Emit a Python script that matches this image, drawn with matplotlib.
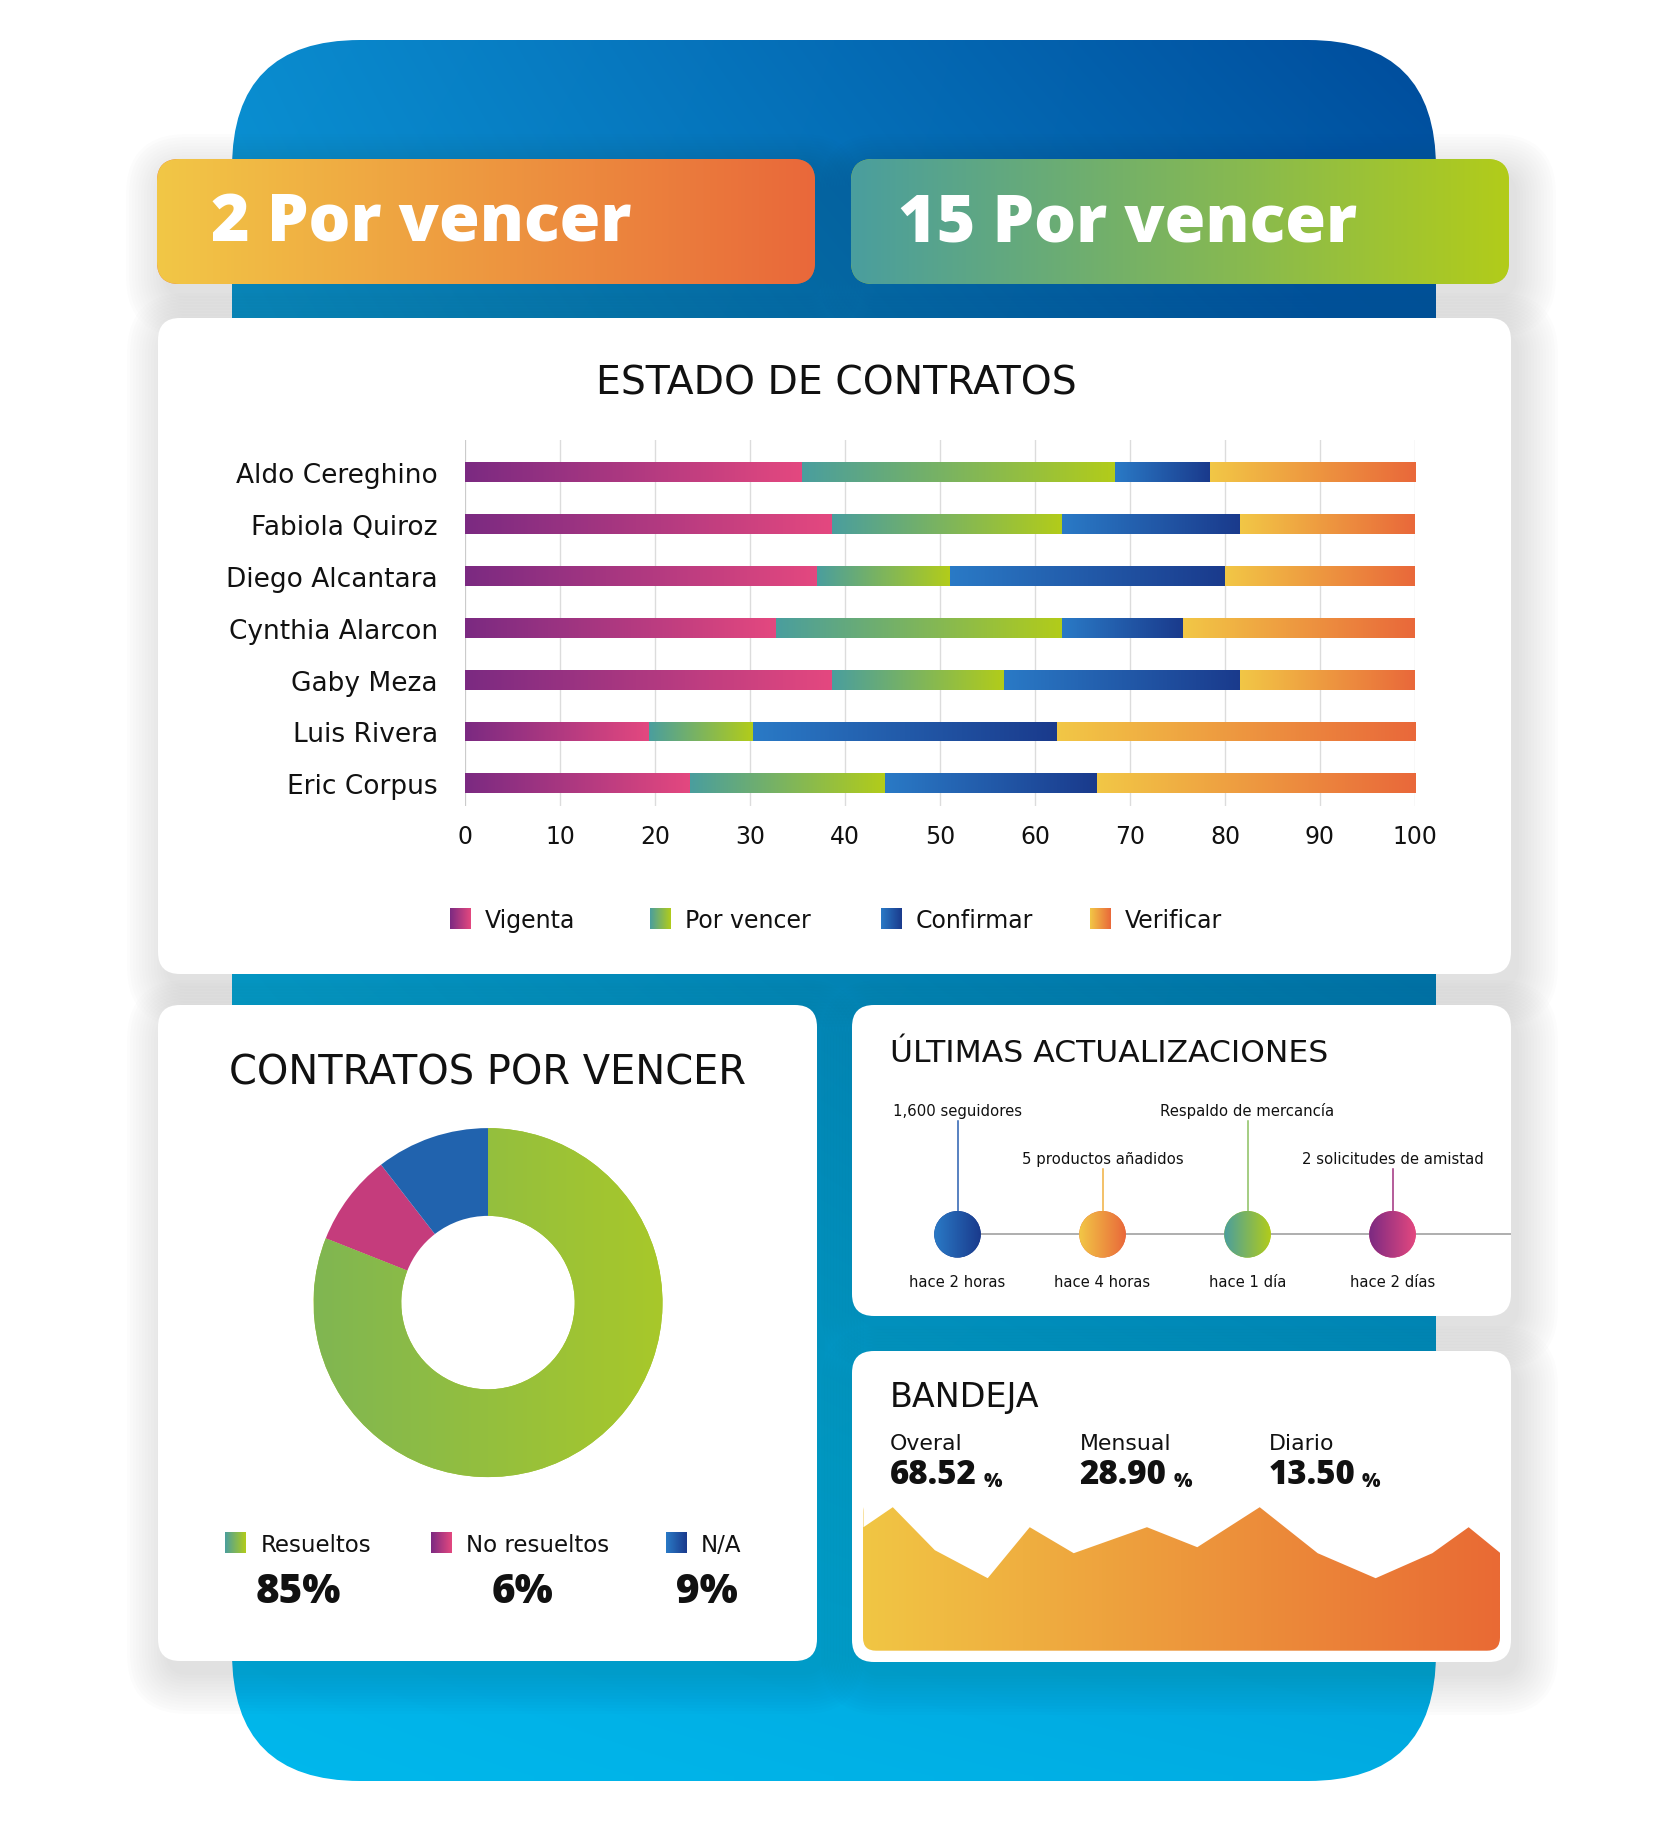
import numpy as np
import matplotlib
matplotlib.use("Agg")
import matplotlib.pyplot as plt
from matplotlib.colors import LinearSegmentedColormap, to_rgb
from matplotlib.patches import FancyBboxPatch, Circle, Rectangle

# -----------------------------
# Data
# -----------------------------
banner_counts = [2, 15]
banner_label = "Por vencer"

people = ["Aldo Cereghino", "Fabiola Quiroz", "Diego Alcantara", "Cynthia Alarcon",
          "Gaby Meza", "Luis Rivera", "Eric Corpus"]
status_names = ["Vigenta", "Por vencer", "Confirmar", "Verificar"]
vigenta = [35.5, 38.6, 37.1, 32.7, 38.6, 19.4, 23.7]
por_vencer = [32.9, 24.2, 13.9, 30.1, 18.1, 10.9, 20.5]
confirmar = [10.0, 18.8, 29.0, 12.8, 24.9, 32.0, 22.3]
verificar = [21.6, 18.4, 20.0, 24.4, 18.4, 37.7, 33.5]
x_ticks = [0, 10, 20, 30, 40, 50, 60, 70, 80, 90, 100]

donut_labels = ["Resueltos", "No resueltos", "N/A"]
donut_shares = [81.0, 8.5, 10.5]      # as drawn in the ring
donut_text = ["85%", "6%", "9%"]      # as printed below it

update_titles = ["1,600 seguidores", "5 productos añadidos",
                 "Respaldo de mercancía", "2 solicitudes de amistad"]
update_times = ["hace 2 horas", "hace 4 horas", "hace 1 día", "hace 2 días"]
update_row = [1, 0, 1, 0]             # 1 = upper label, 0 = lower label

tray_labels = ["Overal", "Mensual", "Diario"]
tray_values = ["68.52", "28.90", "13.50"]
area_x = [0, 4.6, 11.2, 19.5, 26.1, 33.0, 44.5, 52.4, 62.2, 71.3, 80.4, 89.3, 95.0, 100]
area_y = [124, 144, 101, 73, 124, 98, 124, 104, 144, 98, 73, 98, 124, 98]

# gradient pairs (left -> right)
PURPLE = ("#7b2a82", "#e4487f")
GREEN = ("#4a9e9e", "#b2cc1a")
BLUE = ("#2a7ac6", "#1a3a8c")
ORANGE = ("#f2c746", "#e9683a")
series = [vigenta, por_vencer, confirmar, verificar]
series_grad = [PURPLE, GREEN, BLUE, ORANGE]

TXT = "#111111"
REG = "DejaVu Sans"
BOLD = "Open Sans"

W, H = 1668, 1824
fig = plt.figure(figsize=(W / 100, H / 100), dpi=100)
ax = fig.add_axes([0, 0, 1, 1])
ax.axis("off")


def px_axes(x0, y0, x1, y1):
    a = fig.add_axes([x0 / W, 1 - y1 / H, (x1 - x0) / W, (y1 - y0) / H])
    a.patch.set_visible(False)
    return a


def gradient(axis, extent, c1, c2, clip=None, z=1):
    cmap = LinearSegmentedColormap.from_list("g", [c1, c2])
    im = axis.imshow(np.linspace(0, 1, 256)[None, :], cmap=cmap, extent=extent,
                     aspect="auto", interpolation="bilinear", zorder=z)
    if clip is not None:
        im.set_clip_path(clip)
    return im


def rbox(x0, y0, x1, y1, r, **kw):
    p = FancyBboxPatch((x0, y0), x1 - x0, y1 - y0,
                       boxstyle=f"round,pad=0,rounding_size={r}", **kw)
    ax.add_patch(p)
    return p


def shadow(x0, y0, x1, y1, r):
    for k in range(14):
        g = k * 3
        rbox(x0 - g + 8, y0 - g + 14, x1 + g + 8, y1 + g + 14, r + g,
             fc="#505050", ec="none", alpha=0.012, zorder=1)


# -----------------------------
# Blue background
# -----------------------------
bg = rbox(232, 41, 1436, 1782, 128, fc="none", ec="none", zorder=0)
TL, TR = np.array(to_rgb("#0a8ccf")), np.array(to_rgb("#004c9c"))
BL, BR = np.array(to_rgb("#00b8ec")), np.array(to_rgb("#00ace2"))
u = np.linspace(0, 1, 200)[None, :, None]
v = np.linspace(0, 1, 200)[:, None, None]
bg_img = (1 - v) * ((1 - u) * TL + u * TR) + v * ((1 - u) * BL + u * BR)
im = ax.imshow(bg_img, extent=(232, 1436, 1782, 41), aspect="auto",
               interpolation="bilinear", zorder=0)
im.set_clip_path(bg)

# -----------------------------
# Banners
# -----------------------------
banners = [(157, 160, 815, 285, ORANGE, 211), (851, 160, 1509, 285, GREEN, 898)]
for (x0, y0, x1, y1, grad, tx), cnt in zip(banners, banner_counts):
    shadow(x0, y0, x1, y1, 22)
    b = rbox(x0, y0, x1, y1, 22, fc=grad[1], ec="none", zorder=3)
    gradient(ax, (x0, x1, y1, y0), grad[0], grad[1], clip=b, z=3)
    ax.text(tx, 242, f"{cnt} {banner_label}", color="white", fontsize=47.5,
            family=BOLD, weight="heavy", va="baseline", zorder=5)

# -----------------------------
# Cards
# -----------------------------
cards = [(158, 319, 1511, 975), (158, 1006, 817, 1662),
         (852, 1006, 1511, 1317), (852, 1352, 1511, 1663)]
for c in cards:
    shadow(*c, 22)
for c in cards:
    rbox(*c, 22, fc="white", ec="none", zorder=2)

# -----------------------------
# Estado de contratos (stacked bars)
# -----------------------------
ax.text(836, 394.6, "ESTADO DE CONTRATOS", fontsize=28.3, family=REG, color=TXT,
        ha="center", va="baseline", zorder=5)

bax = px_axes(465, 441, 1415, 806.7)
ypos = np.arange(len(people))
bh = 0.385
left = np.zeros(len(people))
for vals, grad in zip(series, series_grad):
    bars = bax.barh(ypos, vals, left=left, height=bh, color=grad[1], lw=0, zorder=2)
    for bar in bars:
        x, y = bar.get_x(), bar.get_y()
        gradient(bax, (x, x + bar.get_width(), y + bh, y), grad[0], grad[1],
                 clip=bar, z=2)
    left += np.array(vals)
bax.set_xlim(0, 100)
bax.set_ylim(6.43, -0.617)
bax.set_xticks(x_ticks)
bax.set_xticklabels([str(t) for t in x_ticks], fontsize=17, family=REG, color=TXT)
bax.set_yticks(ypos)
bax.set_yticklabels(people, fontsize=19, family=REG, color=TXT)
bax.tick_params(axis="x", length=0, pad=13)
bax.tick_params(axis="y", length=0, pad=19.5)
bax.grid(axis="x", color="#dcdcdc", lw=1)
bax.set_axisbelow(True)
for s in bax.spines.values():
    s.set_visible(False)
bax.axvline(0, color="#c8c8c8", lw=1.2, zorder=1)

leg_sq = [450, 650, 881.5, 1090]
leg_tx = [484.5, 685, 916, 1124.5]
for name, grad, sx, tx in zip(status_names, series_grad, leg_sq, leg_tx):
    r = Rectangle((sx, 909), 21, 21, fc=grad[1], ec="none", zorder=4)
    ax.add_patch(r)
    gradient(ax, (sx, sx + 21, 930, 909), grad[0], grad[1], clip=r, z=4)
    ax.text(tx, 927.7, name, fontsize=17, family=REG, color=TXT, va="baseline", zorder=5)

# -----------------------------
# Contratos por vencer (donut)
# -----------------------------
ax.text(488, 1084.6, "CONTRATOS POR VENCER", fontsize=28.8, family=REG, color=TXT,
        ha="center", va="baseline", zorder=5)
cx, cy, R = 488, 1303.6, 174.5
dax = px_axes(cx - R, cy - R, cx + R, cy + R)
wedges, _ = dax.pie(donut_shares, colors=["#a6c72a", "#c53c7c", "#2163ae"],
                    startangle=90, counterclock=False, radius=1,
                    wedgeprops=dict(width=0.503, lw=0))
gradient(dax, (-1, 1, -1, 1), "#80b652", "#a8c82a", clip=wedges[0], z=2)
dax.set_xlim(-1, 1)
dax.set_ylim(-1, 1)
dax.axis("off")

d_grad = [GREEN, PURPLE, BLUE]
d_sq = [225, 431, 666]
d_tx = [261, 465.7, 700.7]
d_num = [298.5, 522.5, 707]
for name, pct, grad, sx, tx, nx in zip(donut_labels, donut_text, d_grad, d_sq, d_tx, d_num):
    r = Rectangle((sx, 1533), 21, 21, fc=grad[1], ec="none", zorder=4)
    ax.add_patch(r)
    gradient(ax, (sx, sx + 21, 1554, 1533), grad[0], grad[1], clip=r, z=4)
    ax.text(tx, 1551.6, name, fontsize=16.5, family=REG, color=TXT, va="baseline", zorder=5)
    ax.text(nx, 1602.8, pct, fontsize=29, family=BOLD, weight="heavy", color=TXT,
            ha="center", va="baseline", zorder=5)

# -----------------------------
# Ultimas actualizaciones (timeline)
# -----------------------------
ax.text(890, 1061.7, "ÚLTIMAS ACTUALIZACIONES", fontsize=22.6, family=REG, color=TXT,
        va="baseline", zorder=5)
unit = 145.0
tx0 = 957.5
tax = px_axes(852, 1006, 1511, 1317)
tax.set_xlim((852 - tx0) / unit, (1511 - tx0) / unit)
tax.set_ylim(0, 311 / unit)
tax.axis("off")
line_y = (1317 - 1235.3) / unit
rad = 23.3 / unit
stem_top = {1: (1317 - 1122.3) / unit, 0: (1317 - 1170.3) / unit}
label_y = {1: (1317 - 1115.7) / unit, 0: (1317 - 1164) / unit}
time_y = (1317 - 1287.3) / unit
ev = np.arange(len(update_titles))
tax.plot([ev[0], tax.get_xlim()[1]], [line_y, line_y], color="#a8a8a8", lw=1.3, zorder=1)
c_grad = [BLUE, ORANGE, GREEN, PURPLE]
stem_col = ["#2a5fb0", "#f0b040", "#8cc060", "#a0307f"]
for i, title, when, row, grad, sc in zip(ev, update_titles, update_times, update_row,
                                          c_grad, stem_col):
    tax.plot([i, i], [line_y, stem_top[row]], color=sc, lw=1.1, zorder=1)
    circ = Circle((i, line_y), rad, fc=grad[1], ec="none", zorder=2)
    tax.add_patch(circ)
    gradient(tax, (i - rad, i + rad, line_y - rad, line_y + rad), grad[0], grad[1],
             clip=circ, z=2)
    tax.text(i, label_y[row], title, fontsize=10.7, family=REG, color=TXT,
             ha="center", va="baseline")
    tax.text(i, time_y, when, fontsize=10.6, family=REG, color=TXT,
             ha="center", va="baseline")
tax.set_xlim((852 - tx0) / unit, (1511 - tx0) / unit)
tax.set_ylim(0, 311 / unit)

# -----------------------------
# Bandeja (area)
# -----------------------------
ax.text(890, 1406.7, "BANDEJA", fontsize=24, family=REG, color=TXT, va="baseline", zorder=5)
for lab, val, x in zip(tray_labels, tray_values, [890, 1079.4, 1268.4]):
    ax.text(x, 1450, lab, fontsize=15.8, family=REG, color=TXT, va="baseline", zorder=5)
    t = ax.text(x, 1484, val, fontsize=23.8, family=BOLD, weight="heavy", color=TXT,
                va="baseline", zorder=5)
    ax.annotate("%", xy=(1, 0), xycoords=t, xytext=(5, 0), textcoords="offset points",
                fontsize=14, family=BOLD, weight="heavy", color=TXT, va="bottom", zorder=5)

aax = px_axes(863, 1495, 1500, 1651.7)
top = 1651.7 - 1495
grad_top = top - 6
aax.set_xlim(0, 100)
aax.set_ylim(0, top)
aax.axis("off")
clip_box = FancyBboxPatch((0, 0), 1, grad_top / top,
                          boxstyle=f"round,pad=0,rounding_size={13 / 637}",
                          mutation_aspect=637 / top, transform=aax.transAxes,
                          fc="none", ec="none")
aax.add_patch(clip_box)
gradient(aax, (0, 100, 0, grad_top), "#f1c644", "#e96a34", clip=clip_box, z=1)
aax.fill_between(area_x, area_y, top, color="white", lw=0, zorder=3)
aax.set_xlim(0, 100)
aax.set_ylim(0, top)

ax.set_xlim(0, W)
ax.set_ylim(H, 0)
fig.savefig("out.png", dpi=100, facecolor="white")
